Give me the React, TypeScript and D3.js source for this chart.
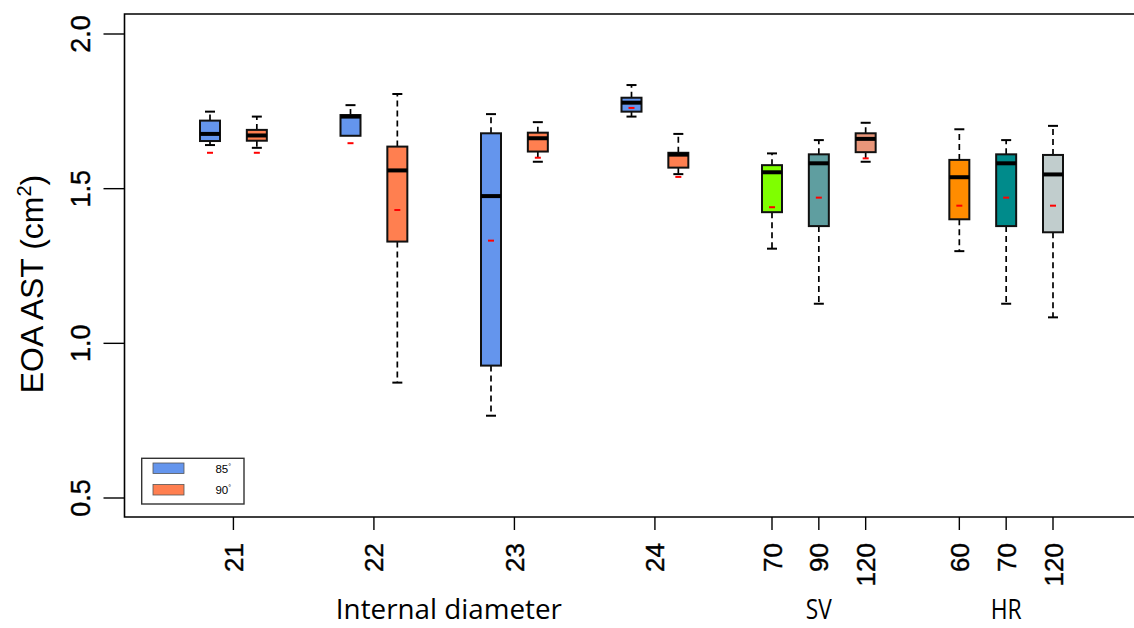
import React from "react";
import * as d3 from "d3";

// ---- data ----
const boxNames = [
  "21-85", "21-90", "22-85", "22-90", "23-85", "23-90", "24-85", "24-90",
  "SV70", "SV90", "SV120", "HR60", "HR70", "HR120",
];
const boxPositions = [0, 1, 3, 4, 6, 7, 9, 10, 12, 13, 14, 16, 17, 18];
const whiskerHigh = [1.749, 1.733, 1.770, 1.806, 1.741, 1.715, 1.835, 1.677, 1.614, 1.657, 1.713, 1.692, 1.657, 1.703];
const q3 = [1.720, 1.690, 1.738, 1.636, 1.679, 1.681, 1.794, 1.616, 1.576, 1.611, 1.679, 1.593, 1.611, 1.609];
const median = [1.677, 1.672, 1.733, 1.559, 1.476, 1.663, 1.778, 1.610, 1.553, 1.582, 1.661, 1.537, 1.582, 1.546];
const q1 = [1.654, 1.655, 1.671, 1.329, 0.928, 1.620, 1.749, 1.568, 1.424, 1.379, 1.618, 1.401, 1.379, 1.359];
const whiskerLow = [1.641, 1.632, 1.671, 0.873, 0.766, 1.587, 1.733, 1.547, 1.306, 1.128, 1.587, 1.298, 1.128, 1.084];
const means = [1.616, 1.616, 1.647, 1.431, 1.332, 1.600, 1.761, 1.538, 1.440, 1.471, 1.598, 1.445, 1.471, 1.445];
const boxColors = [
  "#6495ED", "#FF7F50", "#6495ED", "#FF7F50", "#6495ED", "#FF7F50", "#6495ED", "#FF7F50",
  "#7FFF00", "#5F9EA0", "#E9967A", "#FF8C00", "#008B8B", "#C1CDCD",
];
const tickLabels = ["21", "22", "23", "24", "70", "90", "120", "60", "70", "120"];
const tickPositions = [0.5, 3.5, 6.5, 9.5, 12, 13, 14, 16, 17, 18];
const yTicks = [0.5, 1.0, 1.5, 2.0];
const groupLabels = ["Internal diameter", "SV", "HR"];
const groupLabelPositions = [5.1, 13, 17];
const groupLabelWidths = [226, 26, 31];
const legendLabels = ["85", "90"];
const legendColors = ["#6495ED", "#FF7F50"];

export default function App() {
  const W = 1134, H = 628;
  const left = 124.5, top = 14, bottom = 517;
  const x = d3.scaleLinear().domain([0, 18]).range([210, 1053]);
  const y = d3.scaleLinear().domain([0.5, 2.0]).range([498, 34]);
  const half = 10;
  const sans = "'Liberation Sans', Arial, sans-serif";

  return (
    <svg width={W} height={H} style={{ position: "absolute", left: 0, top: 0, background: "#fff" }}>
      <rect x={0} y={0} width={W} height={H} fill="#fff" />
      {/* frame */}
      <path d={`M${W + 5},${top}H${left}V${bottom}H${W + 5}`} fill="none" stroke="#000" strokeWidth={1.6} />
      {/* y axis ticks */}
      {yTicks.map((t) => (
        <g key={"yt" + t}>
          <line x1={left - 21} x2={left} y1={y(t)} y2={y(t)} stroke="#000" strokeWidth={1.4} />
          <text
            transform={`translate(90,${y(t)}) rotate(-90)`}
            textAnchor="middle"
            fontFamily={sans}
            fontSize={27}
            fill="#000"
            stroke="#000"
            strokeWidth={0.4}
          >
            {d3.format(".1f")(t)}
          </text>
        </g>
      ))}
      {/* y label */}
      <text
        transform={`translate(43,284) rotate(-90)`}
        textAnchor="middle"
        fontFamily={sans}
        fontSize={32}
        fill="#000"
      >
        EOA AST (cm
        <tspan fontSize={20} dy={-12}>2</tspan>
        <tspan dy={12}>)</tspan>
      </text>
      {/* x ticks */}
      {tickPositions.map((p, i) => (
        <g key={"xt" + i}>
          <line x1={x(p)} x2={x(p)} y1={bottom} y2={bottom + 13} stroke="#000" strokeWidth={1.4} />
          <text
            transform={`translate(${x(p) + 9.5},543) rotate(-90)`}
            textAnchor="end"
            fontFamily={sans}
            fontSize={26}
            fill="#000"
            stroke="#000"
            strokeWidth={0.4}
          >
            {tickLabels[i]}
          </text>
        </g>
      ))}
      {/* group labels */}
      {groupLabels.map((g, i) => (
        <text
          key={g}
          x={x(groupLabelPositions[i])}
          y={619}
          textAnchor="middle"
          fontFamily="'Open Sans', sans-serif"
          fontSize={28}
          fill="#000"
          textLength={groupLabelWidths[i]}
          lengthAdjust="spacingAndGlyphs"
        >
          {g}
        </text>
      ))}
      {/* boxes */}
      {boxNames.map((n, i) => {
        const cx = x(boxPositions[i]);
        return (
          <g key={n}>
            {whiskerHigh[i] > q3[i] && (
              <>
                <line x1={cx} x2={cx} y1={y(q3[i])} y2={y(whiskerHigh[i])} stroke="#000" strokeWidth={1.7} strokeDasharray="6,4" />
                <line x1={cx - half / 2} x2={cx + half / 2} y1={y(whiskerHigh[i])} y2={y(whiskerHigh[i])} stroke="#000" strokeWidth={2} />
              </>
            )}
            {whiskerLow[i] < q1[i] && (
              <>
                <line x1={cx} x2={cx} y1={y(q1[i])} y2={y(whiskerLow[i])} stroke="#000" strokeWidth={1.7} strokeDasharray="6,4" />
                <line x1={cx - half / 2} x2={cx + half / 2} y1={y(whiskerLow[i])} y2={y(whiskerLow[i])} stroke="#000" strokeWidth={2} />
              </>
            )}
            <rect
              x={cx - half}
              y={y(q3[i])}
              width={half * 2}
              height={y(q1[i]) - y(q3[i])}
              fill={boxColors[i]}
              stroke="#111"
              strokeWidth={2}
            />
            <line x1={cx - half} x2={cx + half} y1={y(median[i])} y2={y(median[i])} stroke="#000" strokeWidth={4} />
            <line x1={cx - 3} x2={cx + 3} y1={y(means[i])} y2={y(means[i])} stroke="#FF0000" strokeWidth={2} />
          </g>
        );
      })}
      {/* legend */}
      <rect x={141.7} y={458.3} width={102.3} height={45.7} fill="#fff" stroke="#333" strokeWidth={1.4} />
      {legendLabels.map((l, i) => (
        <g key={l}>
          <rect x={153} y={463 + i * 21.5} width={31} height={10.5} fill={legendColors[i]} stroke="#555" strokeWidth={0.8} />
          <text x={231} y={472.5 + i * 21.5} textAnchor="end" fontFamily={sans} fontSize={11.5} fill="#000">
            {l}
            <tspan fontSize={7} dy={-4}>°</tspan>
          </text>
        </g>
      ))}
    </svg>
  );
}
